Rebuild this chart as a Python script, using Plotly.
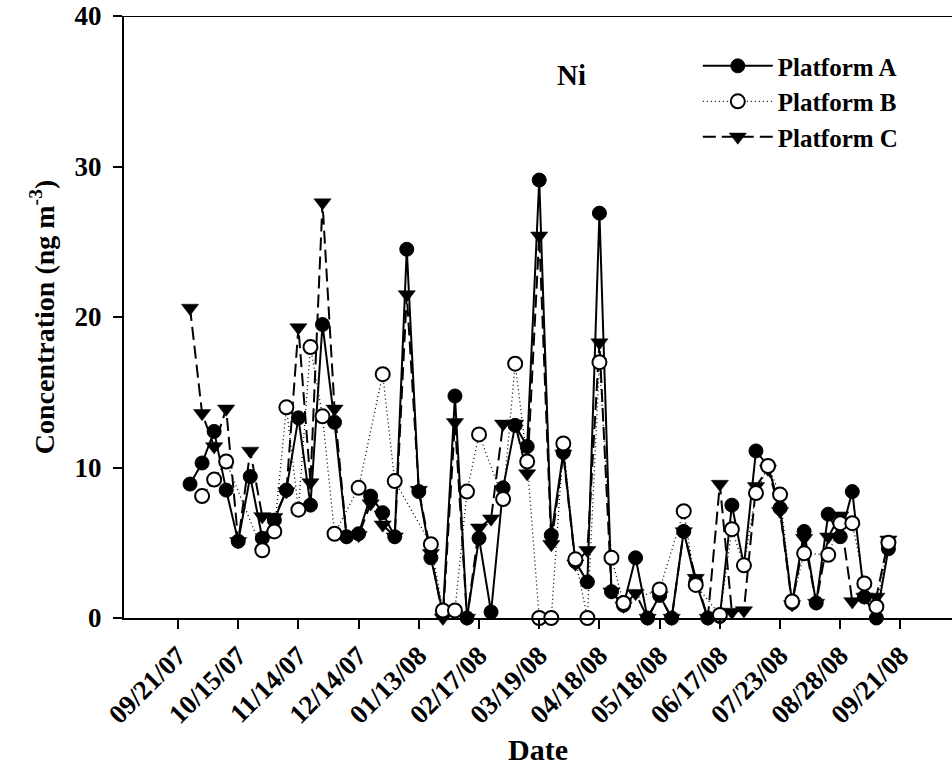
import plotly.graph_objects as go

# Sample number (x axis is sample sequence; labelled dates every 5 samples)
sample = list(range(1, 60))
tick_labels = ["09/21/07", "10/15/07", "11/14/07", "12/14/07", "01/13/08", "02/17/08",
               "03/19/08", "04/18/08", "05/18/08", "06/17/08", "07/23/08", "08/28/08", "09/21/08"]

platform_a = [8.9, 10.3, 12.4, 8.5, 5.1, 9.4, 5.3, 6.5, 8.5, 13.3,
              7.5, 19.5, 13.0, 5.4, 5.6, 8.1, 7.0, 5.4, 24.5, 8.4,
              4.0, 0.3, 14.75, 0.0, 5.3, 0.4, 8.65, 12.8, 11.4, 29.1,
              5.5, 11.0, 3.75, 2.4, 26.9, 1.75, 0.85, 4.0, 0.0, 1.5,
              0.0, 5.75, 2.4, 0.0, 0.1, 7.5, 3.5, 11.1, 10.1, 7.3,
              1.0, 5.75, 1.0, 6.9, 5.4, 8.4, 1.4, 0.0, 4.6]
platform_b = [None, 8.1, 9.2, 10.4, None, None, 4.5, 5.75, 14.0, 7.2,
              18.0, 13.4, 5.6, None, 8.65, None, 16.2, 9.1, None, None,
              4.9, 0.5, 0.5, 8.4, 12.2, None, 7.9, 16.9, 10.4, 0.0,
              0.0, 11.6, 3.9, 0.0, 17.0, 4.0, 1.0, None, None, 1.9,
              None, 7.1, 2.2, None, 0.2, 5.9, 3.5, 8.3, 10.1, 8.2,
              1.1, 4.3, None, 4.2, 6.3, 6.3, 2.3, 0.75, 5.0]
platform_c = [20.6, 13.6, 11.4, 13.9, 5.1, 11.1, 6.75, 6.7, 8.4, 19.3,
              9.0, 27.6, 13.9, 5.4, 5.5, 7.6, 6.2, 5.4, 21.5, 8.5,
              4.3, 0.0, 13.0, 0.0, 6.0, 6.6, 12.9, 12.9, 9.6, 25.4,
              4.9, 10.9, 3.6, 4.5, 18.3, 1.75, 0.8, 1.65, 0.0, 1.5,
              0.0, 5.75, 2.65, 0.0, 8.9, 0.4, 0.5, 8.75, 9.9, 7.1,
              0.9, 5.3, 1.0, 5.4, 6.8, 1.1, 1.4, 1.4, 5.2]

FONT = "Liberation Serif"

trace_a = go.Scatter(
    x=sample, y=platform_a, name="<b>Platform A</b>", mode="lines+markers",
    line=dict(color="black", width=2),
    marker=dict(symbol="circle", size=14, color="black", line=dict(color="black", width=1)),
    cliponaxis=False, legendgroup="a", legendrank=1)
trace_b = go.Scatter(
    x=sample, y=platform_b, name="<b>Platform B</b>", mode="lines+markers",
    line=dict(color="black", width=1.3, dash="1px,3px"), connectgaps=True,
    marker=dict(symbol="circle", size=14, color="white", line=dict(color="black", width=2)),
    cliponaxis=False, legendgroup="b", legendrank=2)
trace_c = go.Scatter(
    x=sample, y=platform_c, name="<b>Platform C</b>", mode="lines+markers",
    line=dict(color="black", width=2, dash="13px,6px"),
    marker=dict(symbol="triangle-down", size=15, color="black", line=dict(color="black", width=0.5)),
    cliponaxis=False, legendgroup="c", legendrank=3)

fig = go.Figure([trace_a, trace_c, trace_b])

fig.add_shape(type="line", xref="paper", yref="y", x0=0, x1=1, y0=40, y1=40,
              line=dict(color="black", width=2))

fig.add_annotation(text="<b>Ni</b>", xref="x", yref="y", x=32.7, y=36.1,
                   showarrow=False, font=dict(family=FONT, size=29, color="black"))

fig.update_layout(
    width=952, height=767,
    margin=dict(l=124, r=0, t=16, b=149),
    paper_bgcolor="white", plot_bgcolor="white",
    font=dict(family=FONT, color="black"),
    showlegend=True,
    legend=dict(x=0.693, y=0.955, xanchor="left", yanchor="top",
                font=dict(family=FONT, size=25, color="black"),
                bgcolor="rgba(0,0,0,0)", itemwidth=70, tracegroupgap=0,
                traceorder="normal"),
    xaxis=dict(
        range=[-4.485, 64.28], tickmode="array",
        tickvals=list(range(0, 61, 5)), ticktext=["<b>%s</b>" % t for t in tick_labels],
        tickangle=-45, ticks="outside", ticklen=9, tickwidth=2, tickcolor="black",
        showline=True, linewidth=2, linecolor="black", showgrid=False, zeroline=False,
        tickfont=dict(family=FONT, size=27, color="black"),
        title=dict(text="<b>Date</b>", font=dict(family=FONT, size=30, color="black"), standoff=10),
    ),
    yaxis=dict(
        range=[0, 40], tickvals=[0, 10, 20, 30, 40],
        ticktext=["<b>0</b>", "<b>10</b>", "<b>20</b>", "<b>30</b>", "<b>40</b>"],
        ticks="outside", ticklen=9, tickwidth=2, tickcolor="black", ticklabelstandoff=6,
        showline=True, linewidth=2, linecolor="black", showgrid=False, zeroline=False,
        tickfont=dict(family=FONT, size=27, color="black"),
        title=dict(text="<b>Concentration (ng m<sup>-3</sup>)</b>",
                   font=dict(family=FONT, size=28, color="black"), standoff=12),
    ),
)

fig.write_html("out.html")
